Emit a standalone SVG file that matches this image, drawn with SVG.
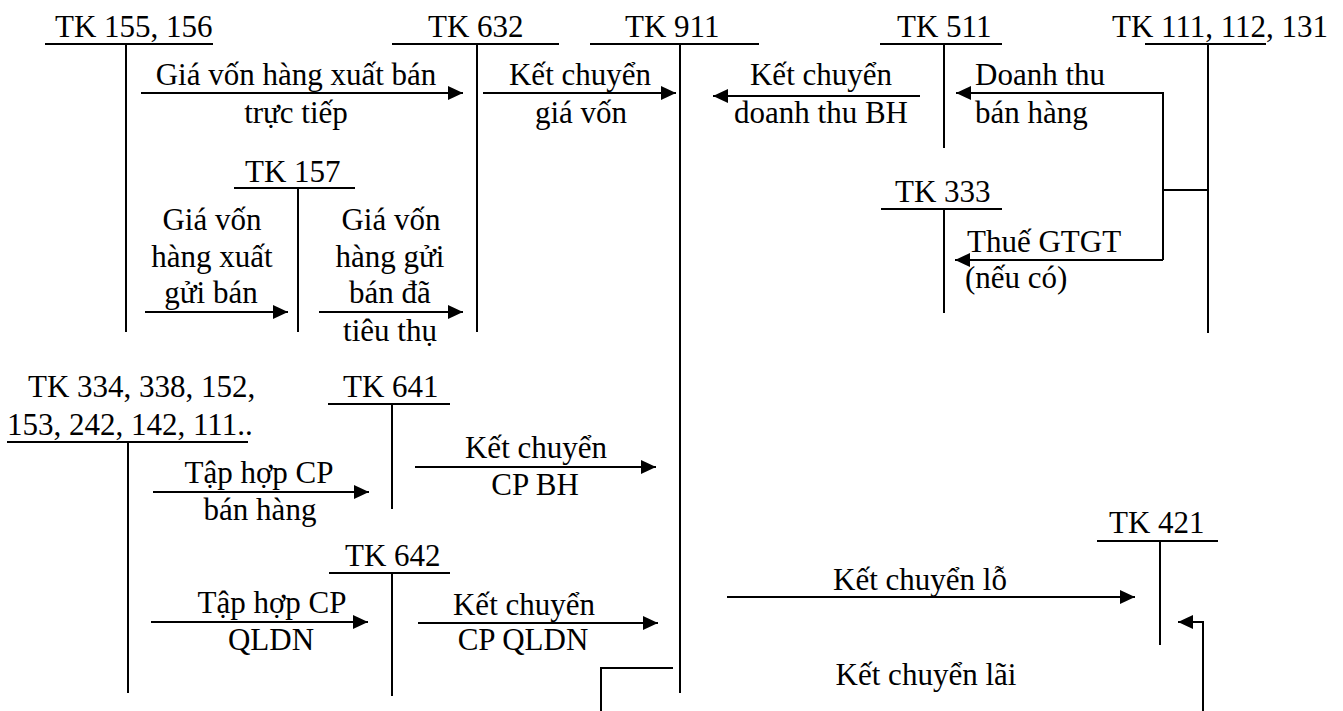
<svg xmlns="http://www.w3.org/2000/svg" width="1343" height="711" viewBox="0 0 1343 711">
<style>
text{font-family:"Liberation Serif","Times New Roman",serif;font-size:31px;fill:#000}
.c{text-anchor:middle}
line,polyline{stroke:#000;stroke-width:2;fill:none}
.a{marker-end:url(#ah)}
</style>
<defs>
<marker id="ah" markerUnits="userSpaceOnUse" markerWidth="16" markerHeight="14" refX="15" refY="7" orient="auto">
<path d="M0,0 L15,7 L0,14 z" fill="#000"/>
</marker>
</defs>
<rect width="1343" height="711" fill="#fff"/>
<g id="tk155">
<text x="55" y="37">TK 155, 156</text>
<line x1="45" y1="44" x2="213" y2="44"/>
<line x1="126" y1="44" x2="126" y2="332"/>
</g>
<g id="tk632">
<text x="428" y="37">TK 632</text>
<line x1="392" y1="44" x2="559" y2="44"/>
<line x1="477" y1="44" x2="477" y2="332"/>
</g>
<g id="tk911">
<text x="625" y="37">TK 911</text>
<line x1="590" y1="44" x2="759" y2="44"/>
<line x1="680" y1="44" x2="680" y2="693"/>
</g>
<g id="tk511">
<text x="897" y="37">TK 511</text>
<line x1="880" y1="44" x2="1002" y2="44"/>
<line x1="944" y1="44" x2="944" y2="148"/>
</g>
<g id="tk111">
<text x="1112" y="37">TK 111, 112, 131</text>
<line x1="1145" y1="44" x2="1266" y2="44"/>
<line x1="1208" y1="44" x2="1208" y2="333"/>
</g>
<g id="tk157">
<text x="245" y="182">TK 157</text>
<line x1="234" y1="188" x2="355" y2="188"/>
<line x1="298" y1="188" x2="298" y2="332"/>
</g>
<g id="tk333">
<text x="895" y="202">TK 333</text>
<line x1="881" y1="209" x2="1002" y2="209"/>
<line x1="944" y1="209" x2="944" y2="313"/>
</g>
<g id="tk334">
<text x="28" y="397">TK 334, 338, 152,</text>
<text x="7" y="435">153, 242, 142, 111..</text>
<line x1="7" y1="442" x2="248" y2="442"/>
<line x1="128" y1="442" x2="128" y2="693"/>
</g>
<g id="tk641">
<text x="343" y="397">TK 641</text>
<line x1="328" y1="404" x2="450" y2="404"/>
<line x1="392" y1="404" x2="392" y2="509"/>
</g>
<g id="tk642">
<text x="345" y="566">TK 642</text>
<line x1="329" y1="573" x2="450" y2="573"/>
<line x1="392" y1="573" x2="392" y2="696"/>
</g>
<g id="tk421">
<text x="1109" y="533">TK 421</text>
<line x1="1097" y1="541" x2="1218" y2="541"/>
<line x1="1160" y1="541" x2="1160" y2="645"/>
</g>
<g id="connectors">
<line class="a" x1="141" y1="93" x2="463" y2="93"/>
<text class="c" x="296" y="85">Giá vốn hàng xuất bán</text>
<text class="c" x="296" y="123">trực tiếp</text>
<line class="a" x1="483" y1="93" x2="676" y2="93"/>
<text class="c" x="580" y="85">Kết chuyển</text>
<text class="c" x="581" y="123">giá vốn</text>
<line class="a" x1="920" y1="96" x2="713" y2="96"/>
<text class="c" x="821" y="85">Kết chuyển</text>
<text class="c" x="821" y="123">doanh thu BH</text>
<polyline class="a" points="1163,260 1163,93 956,93"/>
<line x1="1163" y1="190" x2="1208" y2="190"/>
<text x="975" y="85">Doanh thu</text>
<text x="975" y="123">bán hàng</text>
<line class="a" x1="1163" y1="260" x2="955" y2="260"/>
<text x="967" y="252">Thuế GTGT</text>
<text x="965" y="288">(nếu có)</text>
<line class="a" x1="145" y1="312" x2="288" y2="312"/>
<text class="c" x="212" y="230">Giá vốn</text>
<text class="c" x="212" y="267">hàng xuất</text>
<text class="c" x="211" y="303">gửi bán</text>
<line class="a" x1="319" y1="312" x2="463" y2="312"/>
<text class="c" x="391" y="230">Giá vốn</text>
<text class="c" x="390" y="267">hàng gửi</text>
<text class="c" x="390" y="303">bán đã</text>
<text class="c" x="390" y="341">tiêu thụ</text>
<line class="a" x1="153" y1="492" x2="369" y2="492"/>
<text class="c" x="259" y="483">Tập hợp CP</text>
<text class="c" x="260" y="520">bán hàng</text>
<line class="a" x1="415" y1="467" x2="656" y2="467"/>
<text class="c" x="536" y="458">Kết chuyển</text>
<text class="c" x="535" y="495">CP BH</text>
<line class="a" x1="151" y1="622" x2="368" y2="622"/>
<text class="c" x="272" y="613">Tập hợp CP</text>
<text class="c" x="271" y="650">QLDN</text>
<line class="a" x1="418" y1="623" x2="658" y2="623"/>
<text class="c" x="524" y="615">Kết chuyển</text>
<text class="c" x="523" y="650">CP QLDN</text>
<polyline points="673,668 601,668 601,711"/>
<line class="a" x1="727" y1="597" x2="1135" y2="597"/>
<text class="c" x="920" y="590">Kết chuyển lỗ</text>
<polyline class="a" points="1203,711 1203,622 1178,622"/>
<text class="c" x="926" y="685">Kết chuyển lãi</text>
</g>
</svg>
